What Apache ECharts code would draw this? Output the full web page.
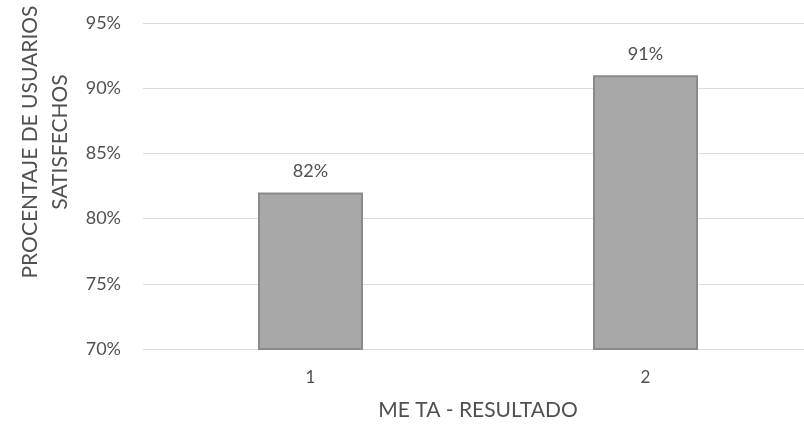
<!DOCTYPE html>
<html>
<head>
<meta charset="UTF-8">
<title>Usuarios satisfechos</title>
<script src="https://cdn.jsdelivr.net/npm/echarts@6/dist/echarts.min.js"></script>
<style>
  html, body { margin: 0; padding: 0; background: #fff; }
  #main { width: 804px; height: 425px; }
</style>
</head>
<body>
<div id="main"></div>
<script>
// datos
var categorias = ['1', '2'];
var valores = [82, 91];
var yMin = 70, yMax = 95, yPaso = 5;

var myChart = echarts.init(document.getElementById('main'));
var fuente = 'Lato, "Open Sans", sans-serif';
var gris = '#505050';

var option = {
  textStyle: { fontFamily: fuente },
  grid: { left: 143, right: -9, top: 23, bottom: 76, outerBoundsMode: 'none' },
  xAxis: {
    type: 'category',
    data: categorias,
    name: 'ME TA - RESULTADO',
    nameLocation: 'middle',
    nameGap: 51,
    nameTextStyle: { fontSize: 21, color: gris, fontFamily: fuente },
    axisLine: { show: false },
    axisTick: { show: false },
    axisLabel: { fontSize: 17, color: gris, margin: 20, fontFamily: fuente }
  },
  yAxis: {
    type: 'value',
    min: yMin,
    max: yMax,
    interval: yPaso,
    name: 'PROCENTAJE DE USUARIOS\nSATISFECHOS',
    nameLocation: 'middle',
    nameGap: 68,
    nameTextStyle: { fontSize: 21, color: gris, lineHeight: 30, fontFamily: fuente, padding: [0, 0, 0, 88] },
    axisLine: { show: false },
    axisTick: { show: false },
    axisLabel: { fontSize: 18, color: gris, margin: 22, formatter: '{value}%', fontFamily: fuente },
    splitLine: { lineStyle: { color: '#dcdcdc', width: 1 } }
  },
  series: [{
    type: 'bar',
    data: valores,
    barWidth: 105,
    itemStyle: { color: '#a8a8a8', borderColor: '#8a8a8a', borderWidth: 2 },
    label: {
      show: true,
      position: 'top',
      distance: 12,
      formatter: '{c}%',
      fontSize: 18,
      color: gris,
      fontFamily: fuente
    }
  }]
};

myChart.setOption(option);
</script>
</body>
</html>
